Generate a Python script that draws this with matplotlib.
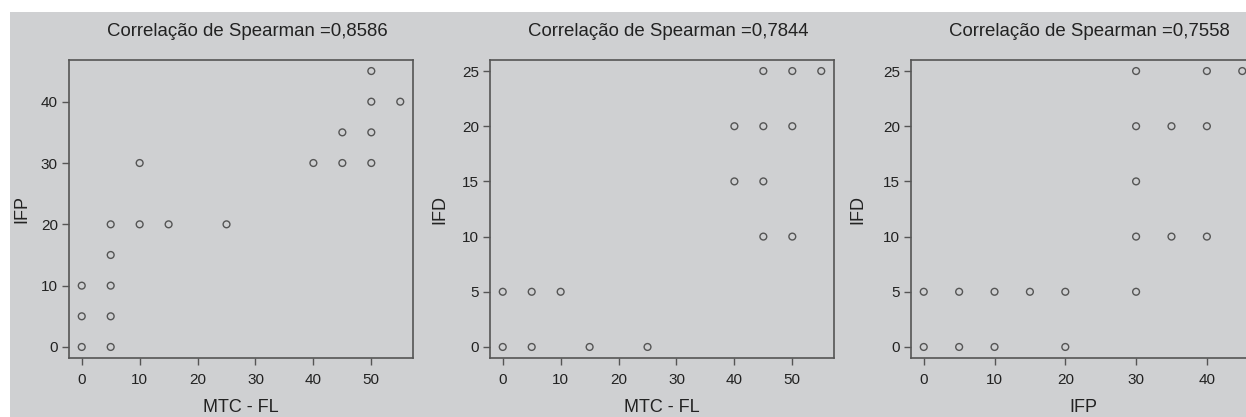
import matplotlib
matplotlib.use("Agg")
import matplotlib.pyplot as plt
from matplotlib.patches import Rectangle

plt.rcParams['font.family'] = ['Liberation Sans', 'DejaVu Sans']

# Panel 1: MTC - FL vs IFP
p1_x = [0, 0, 0, 5, 5, 5, 5, 5, 10, 10, 15, 25, 40, 45, 45, 50, 50, 50, 50, 55]
p1_y = [0, 5, 10, 0, 5, 10, 15, 20, 20, 30, 20, 20, 30, 30, 35, 30, 35, 40, 45, 40]
# Panel 2: MTC - FL vs IFD
p2_x = [0, 0, 5, 5, 10, 15, 25, 40, 40, 45, 45, 45, 45, 50, 50, 50, 55]
p2_y = [0, 5, 0, 5, 5, 0, 0, 15, 20, 10, 15, 20, 25, 10, 20, 25, 25]
# Panel 3: IFP vs IFD
p3_x = [0, 0, 5, 5, 10, 10, 15, 20, 20, 30, 30, 30, 30, 30, 35, 35, 40, 40, 40, 45]
p3_y = [0, 5, 0, 5, 0, 5, 5, 0, 5, 5, 10, 15, 20, 25, 10, 20, 10, 20, 25, 25]

titles = ["Correlação de Spearman =0,8586",
          "Correlação de Spearman =0,7844",
          "Correlação de Spearman =0,7558"]
xlabels = ["MTC - FL", "MTC - FL", "IFP"]
ylabels = ["IFP", "IFD", "IFD"]
xticks = [[0, 10, 20, 30, 40, 50], [0, 10, 20, 30, 40, 50], [0, 10, 20, 30, 40]]
yticks = [[0, 10, 20, 30, 40], [0, 5, 10, 15, 20, 25], [0, 5, 10, 15, 20, 25]]

BG = '#cfd0d2'
DARK = '#555555'
TXT = '#222222'

W, H = 1246, 417
fig = plt.figure(figsize=(W / 100, H / 100), dpi=100)
fig.patch.set_facecolor('white')
fig.patches.append(Rectangle((10 / W, 0), 1, 1 - 12 / H, transform=fig.transFigure,
                             facecolor=BG, edgecolor='none', zorder=-10))

ax_bottom = 1 - 358 / H
ax_h = 298 / H
ax_w = 344 / W
lefts = [69 / W, 490 / W, 911 / W]
ylab_off = [-47, -50, -53]

data = [(p1_x, p1_y), (p2_x, p2_y), (p3_x, p3_y)]

def rlim(vals):
    lo, hi = min(vals), max(vals)
    d = (hi - lo) * 0.04
    return lo - d, hi + d

for i, (xs, ys) in enumerate(data):
    ax = fig.add_axes([lefts[i], ax_bottom, ax_w, ax_h])
    ax.set_facecolor(BG)
    ax.scatter(xs, ys, s=24, facecolors='none', edgecolors=DARK, linewidths=1.0, zorder=3)
    ax.set_xlim(*rlim(xs))
    ax.set_ylim(*rlim(ys))
    ax.set_xticks(xticks[i])
    ax.set_yticks(yticks[i])
    for sp in ax.spines.values():
        sp.set_color(DARK)
        sp.set_linewidth(1.2)
    ax.tick_params(direction='out', length=5, width=1, color=DARK,
                   labelsize=11, labelcolor=TXT)
    ax.tick_params(axis='x', pad=6)
    ax.tick_params(axis='y', pad=3)
    ax.text(0.5 + 6 / 344, 1 + 29 / 298, titles[i], transform=ax.transAxes,
            ha='center', va='center', fontsize=13.4, color=TXT)
    ax.text(0.5, -49 / 298, xlabels[i], transform=ax.transAxes,
            ha='center', va='center', fontsize=13, color=TXT)
    ax.text(ylab_off[i] / 344, 0.5, ylabels[i], transform=ax.transAxes,
            ha='center', va='center', rotation=90, fontsize=13, color=TXT)

fig.savefig('out.png', dpi=100, facecolor='white')
